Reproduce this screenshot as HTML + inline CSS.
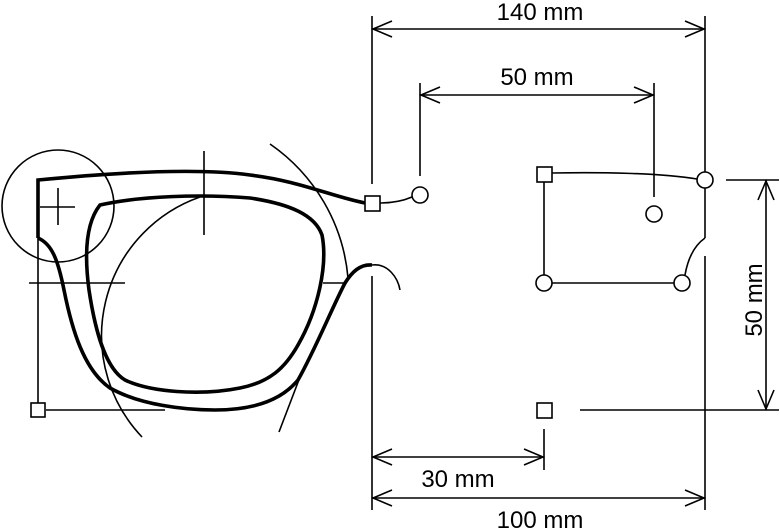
<!DOCTYPE html>
<html><head><meta charset="utf-8"><style>
html,body{margin:0;padding:0;background:#fff;}
svg{display:block;}
text{font-family:"Liberation Sans",sans-serif;font-size:24px;fill:#000;}
</style></head><body>
<svg width="780" height="528" viewBox="0 0 780 528" xmlns="http://www.w3.org/2000/svg">
<g fill="none" stroke="#000" stroke-width="1.6">
<circle cx="58" cy="206" r="56"/>
<line x1="40" y1="207" x2="75" y2="207"/>
<line x1="58" y1="188" x2="58" y2="225"/>
<line x1="204" y1="151" x2="204" y2="235"/>
<line x1="29" y1="283" x2="125" y2="283"/>
<line x1="323" y1="283" x2="347" y2="283"/>
<line x1="38" y1="238" x2="38" y2="403"/>
<line x1="46" y1="410" x2="165" y2="410"/>
<rect x="31" y="403" width="14" height="14" fill="#fff"/>
<path d="M142,437 A147,147 0 0 1 200,197"/>
<path d="M270,144 A182,182 0 0 1 348,278"/>
<path d="M300,377 L279,432"/>
<path d="M372,265 C388,263 398,278 400,290"/>
<path d="M380,203 C395,203 405,200 412,197"/>
</g>
<g fill="none" stroke="#000" stroke-width="3.6" stroke-linejoin="miter">
<path d="M38,238 L38,180 C120,172 200,168 250,175 C300,181 330,196 365,203"/>
<path d="M38,238 C52,244 58,260 64,290 C72,330 84,370 110,388 C140,405 185,410 215,410 C250,410 280,402 298,380 C315,350 332,308 345,283 C352,272 360,264 372,265"/>
<path d="M100,205 C140,196 200,194 250,198 C290,204 315,215 322,235 C328,265 318,310 298,345 C285,368 270,382 240,388 C200,396 150,392 125,380 C105,368 95,330 89,290 C85,260 84,225 100,205 Z"/>
</g>
<g fill="none" stroke="#000" stroke-width="1.6">
<line x1="372" y1="16" x2="372" y2="184"/>
<line x1="372" y1="276" x2="372" y2="510"/>
<line x1="705" y1="16" x2="705" y2="172"/>
<line x1="705" y1="188" x2="705" y2="238"/>
<line x1="705" y1="256" x2="705" y2="510"/>
<line x1="372" y1="29" x2="705" y2="29"/>
<path d="M392,21 L373,29 L392,37 M685,21 L704,29 L685,37"/>
<line x1="420" y1="83" x2="420" y2="176"/>
<line x1="654" y1="83" x2="654" y2="197"/>
<line x1="420" y1="95" x2="654" y2="95"/>
<path d="M440,87 L421,95 L440,103 M634,87 L653,95 L634,103"/>
<rect x="365" y="196" width="15" height="15" fill="#fff"/>
<circle cx="420" cy="195" r="8" fill="#fff"/>
<circle cx="654" cy="214" r="8" fill="#fff"/>
<path d="M552,173 C600,172 660,173 697,179"/>
<line x1="544" y1="182" x2="544" y2="275"/>
<line x1="552" y1="283" x2="674" y2="283"/>
<path d="M685,275 C688,258 695,245 705,238"/>
<rect x="537" y="167" width="15" height="15" fill="#fff"/>
<circle cx="705" cy="180" r="8" fill="#fff"/>
<circle cx="544" cy="283" r="8" fill="#fff"/>
<circle cx="682" cy="283" r="8" fill="#fff"/>
<line x1="726" y1="180" x2="779" y2="180"/>
<line x1="580" y1="410" x2="779" y2="410"/>
<line x1="766" y1="180" x2="766" y2="410"/>
<path d="M758,200 L766,181 L774,200 M758,390 L766,409 L774,390"/>
<rect x="537" y="403" width="15" height="15" fill="#fff"/>
<line x1="544" y1="429" x2="544" y2="470"/>
<line x1="372" y1="457" x2="544" y2="457"/>
<path d="M392,449 L373,457 L392,465 M524,449 L543,457 L524,465"/>
<line x1="372" y1="498" x2="705" y2="498"/>
<path d="M392,490 L373,498 L392,506 M685,490 L704,498 L685,506"/>
</g>
<text x="540" y="20" text-anchor="middle">140 mm</text>
<text x="537" y="85" text-anchor="middle">50 mm</text>
<text x="458" y="487" text-anchor="middle">30 mm</text>
<text x="540" y="528" text-anchor="middle">100 mm</text>
<text x="0" y="0" text-anchor="middle" transform="translate(762,300) rotate(-90)">50 mm</text>
</svg>
</body></html>
